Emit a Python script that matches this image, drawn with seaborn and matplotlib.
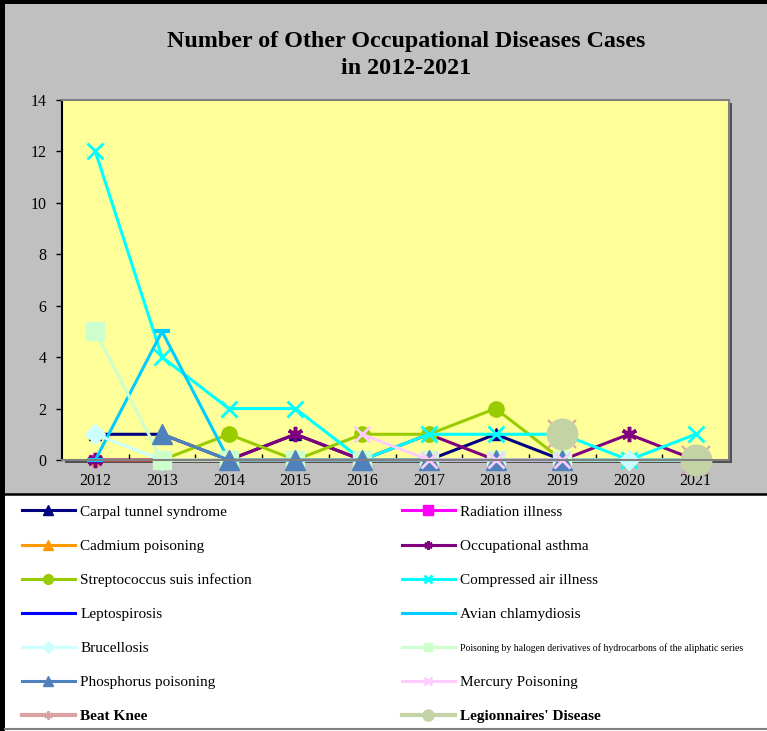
import numpy as np
import pandas as pd
import matplotlib
matplotlib.use("Agg")
import matplotlib.pyplot as plt
from matplotlib.lines import Line2D
from matplotlib.patches import Rectangle
import seaborn as sns

nan = np.nan
years = [2012, 2013, 2014, 2015, 2016, 2017, 2018, 2019, 2020, 2021]

carpal_tunnel = [1, 1, 0, 1, 0, 0, 1, 0, 0, 0]
radiation = [0, 0, 0, 0, 0, 0, 0, 0, 0, 0]
cadmium = [0, 0, 0, 0, 0, 0, 0, 0, 0, 0]
asthma = [0, 0, 0, 1, 0, 1, 0, 0, 1, 0]
streptococcus = [nan, 0, 1, 0, 1, 1, 2, 0, 0, 0]
compressed_air = [12, 4, 2, 2, 0, 1, 1, 1, 0, 1]
leptospirosis = [0, nan, nan, nan, nan, nan, nan, nan, nan, nan]
avian_chlamydiosis = [0, 5, 0, 0, 0, 0, 0, 0, 0, 0]
brucellosis = [1, 0, 0, 0, 0, 0, 0, 0, 0, 0]
halogen = [5, 0, 0, 0, 0, 0, 0, 0, nan, 0]
phosphorus = [nan, 1, 0, 0, 0, 0, 0, 0, nan, 0]
mercury = [nan, nan, nan, nan, 1, 0, 0, 0, nan, 0]
beat_knee = [nan, nan, nan, nan, nan, nan, nan, 1, nan, 0]
legionnaires = [nan, nan, nan, nan, nan, nan, nan, 1, nan, 0]

labels = [
    "Carpal tunnel syndrome", "Radiation illness", "Cadmium poisoning",
    "Occupational asthma", "Streptococcus suis infection", "Compressed air illness",
    "Leptospirosis", "Avian chlamydiosis", "Brucellosis",
    "Poisoning by halogen derivatives of hydrocarbons of the aliphatic series",
    "Phosphorus poisoning", "Mercury Poisoning", "Beat Knee", "Legionnaires' Disease",
]
series = [carpal_tunnel, radiation, cadmium, asthma, streptococcus, compressed_air,
          leptospirosis, avian_chlamydiosis, brucellosis, halogen, phosphorus,
          mercury, beat_knee, legionnaires]

ASTER = (6, 2, 0)
# color, marker, plot markersize, mew, line width, legend markersize
styles = [
    ("#000080", "^", 9, 1.0, 2.2, 7),
    ("#FF00FF", "s", 7, 1.0, 2.2, 7),
    ("#FF9900", "^", 7, 1.0, 2.2, 7),
    ("#800080", ASTER, 11, 2.5, 2.2, 6),
    ("#99CC00", "o", 11, 1.0, 2.2, 7),
    ("#00FFFF", "x", 12, 2.0, 2.2, 6),
    ("#0000FF", "_", 8, 2.5, 2.2, 5),
    ("#00CCFF", "_", 12, 3.0, 2.2, 5),
    ("#CCFFFF", "D", 10, 1.0, 2.2, 6),
    ("#CCFFCC", "s", 13, 1.0, 2.2, 6),
    ("#4F81BD", "^", 14, 1.0, 2.2, 7),
    ("#FFCCFF", "x", 11, 2.0, 2.2, 6),
    ("#D9A3A3", "x", 20.5, 1.5, 3.0, 6),
    ("#C4D3A6", "o", 22, 1.0, 3.0, 8),
]

fig = plt.figure(figsize=(7.67, 7.31), dpi=100, facecolor="#C0C0C0")
W, H = 767, 731
plt.rcParams["font.family"] = ["Liberation Serif", "DejaVu Serif"]

# legend area, outer frame
fig.patches.append(Rectangle((5 / W, 0), 1, (H - 494) / H, transform=fig.transFigure,
                             facecolor="white", edgecolor="none", zorder=-2))
fig.lines.append(Line2D([5 / W, 1], [1 - 494 / H] * 2, transform=fig.transFigure,
                        color="black", lw=1.8))
fig.lines.append(Line2D([5 / W, 1], [1 - 729 / H] * 2, transform=fig.transFigure,
                        color="#808080", lw=1.5))
fig.patches.append(Rectangle((0, 1 - 4 / H), 1, 4 / H, transform=fig.transFigure,
                             facecolor="black", edgecolor="none"))
fig.patches.append(Rectangle((0, 0), 5 / W, 1, transform=fig.transFigure,
                             facecolor="black", edgecolor="none"))

left, right, top, bottom = 62, 729, 100, 460
ax = fig.add_axes([left / W, 1 - bottom / H, (right - left) / W, (bottom - top) / H])
# shadow behind the plot area
fig.patches.append(Rectangle(((left + 3) / W, 1 - (bottom + 3) / H), (right - left) / W,
                             (bottom - top) / H, transform=fig.transFigure,
                             facecolor="#505050", edgecolor="none", zorder=-1))
ax.set_facecolor("#FFFF99")


def draw_series(values, color, marker, ms, mew, lw):
    s = pd.Series(values, index=years, dtype=float)
    run_id = s.isna().cumsum()[s.notna()]
    for _, seg in s.dropna().groupby(run_id):
        sns.lineplot(x=seg.index.values, y=seg.values, ax=ax, color=color, lw=lw,
                     marker=marker, markersize=ms, markeredgewidth=mew,
                     markeredgecolor=color, markerfacecolor=color,
                     estimator=None, legend=False, clip_on=False)


for vals, (color, marker, ms, mew, lw, _) in zip(series, styles):
    draw_series(vals, color, marker, ms, mew, lw)

ax.set_xlim(2011.5, 2021.5)
ax.set_ylim(0, 14)
ax.set_xticks(years)
ax.set_xticks([y + 0.5 for y in years[:-1]], minor=True)
ax.set_yticks(range(0, 15, 2))
ax.tick_params(axis="x", which="major", length=0, pad=9, labelsize=11.5)
ax.tick_params(axis="x", which="minor", direction="in", length=4, width=1)
ax.tick_params(axis="y", direction="out", length=4, width=1, pad=7, labelsize=11.5)
ax.set_xlabel("")
ax.set_ylabel("")
ax.spines["left"].set_color("black")
ax.spines["left"].set_linewidth(1.5)
for side in ["top", "right", "bottom"]:
    ax.spines[side].set_color("#808080")
    ax.spines[side].set_linewidth(1.5)

fig.text(406 / W, 1 - 42 / H, "Number of Other Occupational Diseases Cases",
         ha="center", va="center", fontsize=17.3, fontweight="bold")
fig.text(406 / W, 1 - 69 / H, "in 2012-2021",
         ha="center", va="center", fontsize=17.3, fontweight="bold")

# legend, two columns, row-wise order
row_y = [512, 546, 580, 614, 648, 682, 716]
col_x = [22, 402]
for i, (label, (color, marker, ms, mew, lw, lms)) in enumerate(zip(labels, styles)):
    row, col = divmod(i, 2)
    leg_marker = ASTER if i == 12 else marker
    handle = Line2D([0], [0], color=color, lw=lw, marker=leg_marker, markersize=lms,
                    markeredgewidth=min(mew, 2.0), markeredgecolor=color,
                    markerfacecolor=color)
    size = 7 if i == 9 else 11
    weight = "bold" if i >= 12 else "normal"
    fig.legend([handle], [label], loc="center left",
               bbox_to_anchor=(col_x[col] / W, 1 - row_y[row] / H),
               frameon=False, borderpad=0, borderaxespad=0,
               handlelength=53 / 15.3 * 11 / size, handletextpad=0.35 * 11 / size,
               prop={"size": size, "weight": weight})

fig.savefig("out.png", dpi=100, facecolor=fig.get_facecolor())
